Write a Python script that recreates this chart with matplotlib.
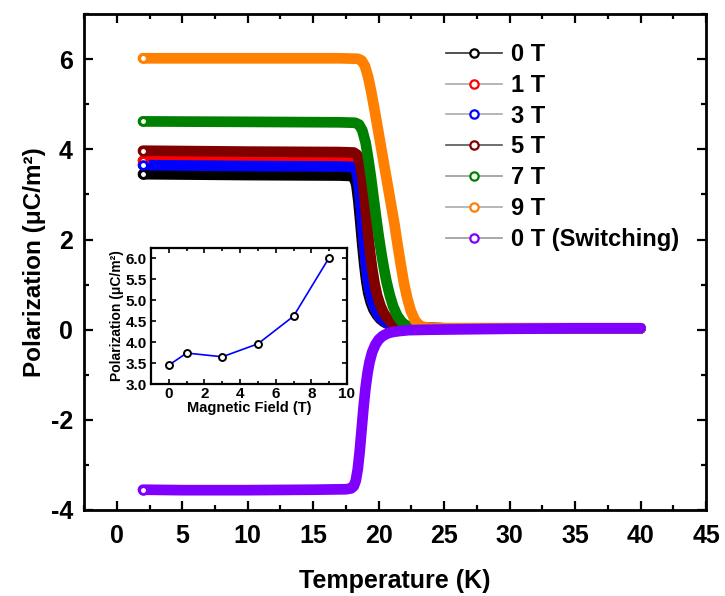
import matplotlib
matplotlib.use("Agg")
import matplotlib.pyplot as plt
from matplotlib.ticker import MultipleLocator
from matplotlib.lines import Line2D

plt.rcParams['font.family'] = ['Liberation Sans', 'DejaVu Sans']
plt.rcParams['font.weight'] = 'bold'
plt.rcParams['axes.unicode_minus'] = False

# ---- data ----
labels = ['0 T', '1 T', '3 T', '5 T', '7 T', '9 T', '0 T (Switching)']
colors = ['#000000', '#ff0000', '#0000ff', '#800000', '#008000', '#ff8000', '#8000ff']
legend_line_colors = ['#333333', '#aaaaaa', '#aaaaaa', '#555555', '#999999', '#aaaaaa', '#999999']

T_0 = [2, 10, 17, 17.9, 18.15, 18.3, 18.45, 18.6, 18.75, 18.9, 19.05, 19.2, 19.4, 19.6, 19.85,
       20.1, 20.4, 20.8, 21.2, 21.7, 22.5, 25, 30, 35, 40]
P_0 = [3.45, 3.43, 3.42, 3.41, 3.36, 3.2, 2.85, 2.38, 1.88, 1.44, 1.08, 0.82, 0.6, 0.45, 0.33,
       0.24, 0.17, 0.11, 0.08, 0.05, 0.04, 0.03, 0.03, 0.03, 0.03]

T_1 = [2, 10, 17, 18.0, 18.25, 18.4, 18.55, 18.7, 18.85, 19.0, 19.15, 19.3, 19.5, 19.7, 19.95,
       20.2, 20.5, 20.9, 21.3, 21.8, 22.5, 25, 30, 40]
P_1 = [3.75, 3.73, 3.72, 3.71, 3.64, 3.46, 3.07, 2.56, 2.02, 1.55, 1.17, 0.89, 0.65, 0.48, 0.34,
       0.25, 0.17, 0.11, 0.07, 0.05, 0.04, 0.03, 0.03, 0.03]

T_3 = [2, 10, 17, 18.0, 18.25, 18.4, 18.55, 18.7, 18.85, 19.0, 19.15, 19.3, 19.5, 19.7, 19.95,
       20.2, 20.5, 20.9, 21.3, 21.8, 22.5, 25, 30, 40]
P_3 = [3.65, 3.63, 3.62, 3.61, 3.55, 3.38, 3.0, 2.5, 1.98, 1.52, 1.15, 0.88, 0.64, 0.48, 0.34,
       0.25, 0.17, 0.11, 0.07, 0.05, 0.04, 0.03, 0.03, 0.03]

T_5 = [2, 10, 17, 18.1, 18.35, 18.55, 18.75, 18.9, 19.05, 19.2, 19.35, 19.5, 19.7, 19.9, 20.15,
       20.4, 20.7, 21.0, 21.4, 21.9, 22.6, 25, 30, 40]
P_5 = [3.97, 3.95, 3.94, 3.93, 3.88, 3.72, 3.4, 3.0, 2.55, 2.1, 1.7, 1.36, 1.0, 0.74, 0.52,
       0.36, 0.24, 0.15, 0.09, 0.05, 0.04, 0.03, 0.03, 0.03]

T_7 = [2, 10, 17, 18.2, 18.5, 18.75, 19.0, 19.2, 19.4, 19.6, 19.8, 20.0, 20.2, 20.4, 20.6,
       20.85, 21.1, 21.4, 21.7, 22.0, 22.4, 23.0, 25, 30, 40]
P_7 = [4.62, 4.61, 4.60, 4.59, 4.55, 4.42, 4.15, 3.8, 3.4, 2.95, 2.5, 2.08, 1.7, 1.36, 1.06,
       0.76, 0.52, 0.32, 0.19, 0.11, 0.06, 0.04, 0.03, 0.03, 0.03]

T_9 = [2, 10, 17, 18.4, 18.7, 18.95, 19.2, 19.45, 19.7, 20.0, 20.3, 20.6, 20.9, 21.2, 21.45,
       21.7, 21.95, 22.2, 22.45, 22.75, 23.05, 23.4, 24, 25, 30, 40]
P_9 = [6.02, 6.02, 6.02, 6.01, 5.97, 5.85, 5.6, 5.25, 4.85, 4.35, 3.85, 3.35, 2.85, 2.35, 1.87,
       1.42, 1.0, 0.68, 0.42, 0.22, 0.11, 0.06, 0.04, 0.03, 0.03, 0.03]

T_sw = [2, 5, 10, 15, 17.5, 17.9, 18.1, 18.25, 18.4, 18.55, 18.7, 18.85, 19.0, 19.15, 19.3,
        19.5, 19.75, 20.0, 20.3, 20.7, 21.1, 21.6, 22.3, 24, 30, 35, 40]
P_sw = [-3.55, -3.56, -3.56, -3.55, -3.54, -3.52, -3.47, -3.35, -3.1, -2.7, -2.2, -1.7, -1.28, -0.96, -0.72,
        -0.5, -0.33, -0.22, -0.14, -0.08, -0.05, -0.03, -0.01, 0.0, 0.02, 0.03, 0.03]

series_T = [T_0, T_1, T_3, T_5, T_7, T_9, T_sw]
series_P = [P_0, P_1, P_3, P_5, P_7, P_9, P_sw]

field = [0, 1, 3, 5, 7, 9]
pol_field = [3.45, 3.74, 3.65, 3.96, 4.62, 6.02]

# ---- figure ----
fig = plt.figure(figsize=(7.25, 5.96), dpi=100)
ax = fig.add_axes([0.1159, 0.1443, 0.858, 0.832])

for T, P, c in zip(series_T, series_P, colors):
    ax.plot(T, P, color=c, lw=7.7, solid_capstyle='round', solid_joinstyle='round', zorder=2)
    ax.plot([T[0]], [P[0]], 'o', ms=5.6, mew=2.05, mfc='white', mec=c, zorder=3)

ax.set_xlim(-2.5, 45)
ax.set_ylim(-4, 7)
ax.xaxis.set_major_locator(MultipleLocator(5))
ax.xaxis.set_minor_locator(MultipleLocator(2.5))
ax.yaxis.set_major_locator(MultipleLocator(2))
ax.yaxis.set_minor_locator(MultipleLocator(1))
ax.tick_params(which='both', direction='in', top=True, right=True, width=1.6)
ax.tick_params(which='major', length=6.5)
ax.tick_params(which='minor', length=3.5)
ax.tick_params(axis='x', which='major', labelsize=18, pad=10)
ax.tick_params(axis='y', which='major', labelsize=18, pad=8)
ax.set_yticks([-4, -2, 0, 2, 4, 6])
for s in ax.spines.values():
    s.set_linewidth(2)
for lab in ax.get_xticklabels() + ax.get_yticklabels():
    lab.set_fontweight('bold')
ax.set_xlabel('Temperature (K)', fontsize=18, fontweight='bold', labelpad=15)
ax.set_ylabel('Polarization (μC/m²)', fontsize=17.5, fontweight='bold', labelpad=3)

handles = [Line2D([0], [0], color=lc, lw=1.2, marker='o', ms=6, mew=1.6, mfc='white', mec=c)
           for c, lc in zip(colors, legend_line_colors)]
leg = ax.legend(handles, labels, loc='upper left', bbox_to_anchor=(0.555, 0.975), frameon=False,
                handlelength=2.4, handletextpad=0.35, labelspacing=0.33, borderpad=0.2,
                prop={'weight': 'bold', 'size': 17})

# ---- inset ----
ins = fig.add_axes([0.2083, 0.3557, 0.2703, 0.2282])
ins.plot(field, pol_field, color='#0000ff', lw=1.2, zorder=2)
ins.plot(field, pol_field, 'o', ms=5, mew=1.4, mfc='white', mec='black', zorder=3)
ins.set_xlim(-1, 10)
ins.set_ylim(3.0, 6.25)
ins.xaxis.set_major_locator(MultipleLocator(2))
ins.xaxis.set_minor_locator(MultipleLocator(1))
ins.yaxis.set_major_locator(MultipleLocator(0.5))
ins.tick_params(which='both', direction='in', top=True, right=True, width=1.2)
ins.tick_params(which='major', length=3.5, labelsize=11)
ins.tick_params(which='minor', length=2)
ins.tick_params(axis='x', pad=2.5)
ins.tick_params(axis='y', pad=3)
ins.set_yticks([3.0, 3.5, 4.0, 4.5, 5.0, 5.5, 6.0])
ins.set_yticklabels(['3.0', '3.5', '4.0', '4.5', '5.0', '5.5', '6.0'])
for s in ins.spines.values():
    s.set_linewidth(1.6)
for lab in ins.get_xticklabels() + ins.get_yticklabels():
    lab.set_fontweight('bold')
ins.set_xlabel('Magnetic Field (T)', fontsize=10.5, fontweight='bold', labelpad=0)
ins.set_ylabel('Polarization (μC/m²)', fontsize=10, fontweight='bold', labelpad=1)

fig.savefig('out.png', dpi=100)
